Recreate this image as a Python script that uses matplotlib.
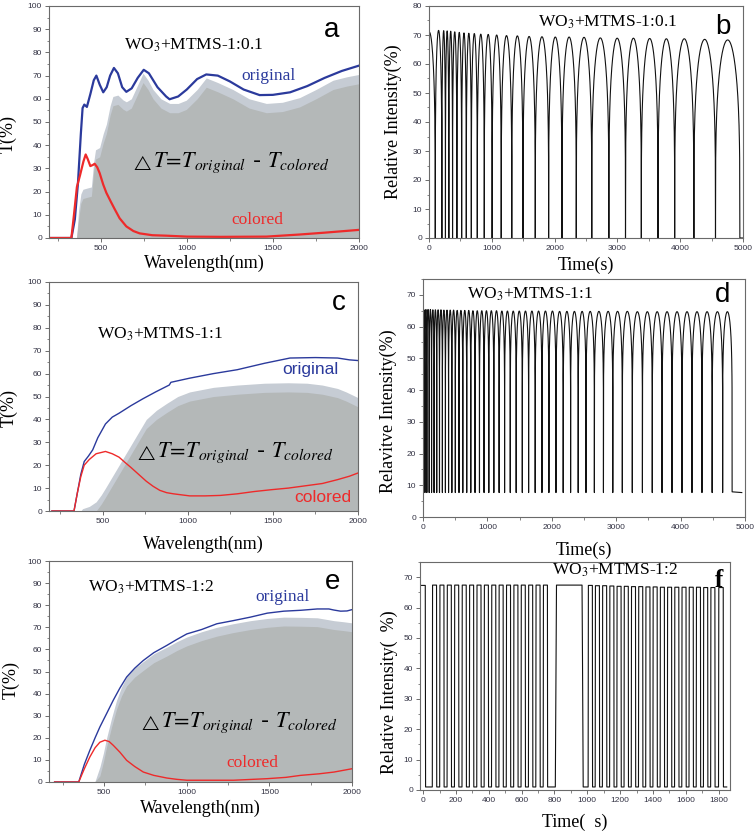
import numpy as np
import matplotlib
matplotlib.use("Agg")
import matplotlib.pyplot as plt
from matplotlib.ticker import MultipleLocator

plt.rcParams["mathtext.fontset"] = "stix"
SERIF = "Liberation Serif"
SANS = "Liberation Sans"

# ---- panel a : WO3+MTMS-1:0.1 spectra ----
a_wl_orig = [200, 330, 350, 368, 385, 395, 405, 420, 440, 460, 475, 495, 515, 535, 555, 577, 600, 625, 649,
             680, 715, 750, 780, 830, 880, 900, 950, 1000, 1060, 1113, 1180, 1250, 1330, 1423, 1500, 1600,
             1700, 1800, 1900, 2000]
a_T_orig = [0, 0, 8, 23.5, 45, 56, 57.5, 56.5, 62, 68, 70, 66, 62.8, 65, 70, 73.3, 71, 65, 63,
            64.5, 69, 72.5, 71, 65, 61, 59.8, 61, 64, 68.5, 70.5, 70, 67.5, 64, 61.6, 61.7, 62.8,
            65.5, 69, 72, 74.3]
a_wl_col = [200, 330, 345, 362, 380, 400, 413, 425, 440, 455, 465, 480, 494, 515, 533, 560, 581, 610,
            649, 690, 726, 800, 881, 1000, 1200, 1462, 1655, 1800, 2000]
a_T_col = [0, 0, 10, 22, 27, 33, 36, 34, 31, 31.5, 32, 30.5, 28, 23, 19.5, 15.5, 12.5, 8.5,
           5, 3, 2, 1.2, 1, 0.6, 0.5, 0.6, 1.5, 2.3, 3.5]
a_wl_dT = [200, 360, 372, 385, 397, 420, 446, 460, 470, 494, 515, 533, 555, 571, 600, 630, 649, 678,
           715, 746, 775, 804, 850, 901, 950, 997, 1060, 1113, 1180, 1268, 1362, 1462, 1555, 1655,
           1750, 1849, 1930, 2000]
a_dT = [0, 0, 12, 19, 21, 21.5, 22, 33, 38, 39, 45, 49, 57, 61, 61.6, 59.5, 58.7, 60,
        66, 71, 68, 64, 60, 58, 58, 59.4, 64, 69, 67, 64, 60, 58, 58.5, 60.5,
        64, 68, 69.5, 70.5]

# ---- panel c : WO3+MTMS-1:1 spectra ----
c_wl_orig = [200, 330, 350, 370, 390, 415, 440, 470, 515, 555, 595, 665, 735, 810, 890, 900, 1010,
             1150, 1290, 1450, 1600, 1750, 1880, 1950, 2000]
c_T_orig = [0, 0, 8, 16, 21.6, 24, 26.7, 32, 38, 41, 42.7, 46, 49, 52, 55, 56.2, 58,
            60, 61.7, 64.5, 66.8, 67, 66.8, 66, 65.7]
c_wl_col = [200, 330, 350, 370, 390, 420, 460, 515, 555, 595, 630, 665, 710, 755, 795, 835, 875, 915,
            1010, 1100, 1190, 1290, 1390, 1490, 1590, 1690, 1790, 1880, 1950, 2000]
c_T_col = [0, 0, 8, 15, 20, 22.5, 25, 26, 25, 23.5, 21.2, 19, 16, 13, 10.8, 9, 8, 7.5,
           6.6, 6.6, 6.8, 7.5, 8.5, 9.3, 10, 11, 12, 13.7, 15.2, 16.6]
c_wl_dT = [200, 370, 380, 420, 460, 490, 515, 555, 595, 635, 675, 715, 755, 815, 875, 940, 1010,
           1150, 1290, 1450, 1590, 1700, 1790, 1880, 1930, 2000]
c_dT = [0, 0, 1, 2, 4, 7, 10, 15, 20, 25, 30, 35, 40, 44, 47, 50, 52,
        54, 55, 55.8, 56, 55.8, 55, 53.5, 52, 49.5]

# ---- panel e : WO3+MTMS-1:2 spectra ----
e_wl_orig = [200, 346, 380, 413, 445, 474, 515, 555, 595, 636, 685, 737, 800, 879, 940, 1000, 1090,
             1182, 1280, 1385, 1487, 1587, 1690, 1790, 1860, 1891, 1931, 1970, 2000]
e_T_orig = [0, 0, 8, 14.3, 20, 24.9, 31, 37, 42.5, 47.5, 51.5, 55, 58.5, 61.8, 64.5, 67, 69,
            71.6, 73, 74.6, 76.4, 77.3, 77.7, 78.3, 78.3, 77.8, 77.3, 77.4, 78]
e_wl_col = [200, 346, 380, 413, 445, 474, 504, 530, 555, 595, 636, 685, 737, 800, 879, 940, 1000,
            1283, 1486, 1600, 1689, 1800, 1891, 2000]
e_T_col = [0, 0, 6, 11.3, 15.5, 18, 18.9, 18.3, 16.6, 13.5, 9.8, 7, 4.5, 3, 1.8, 1.2, 0.8,
           0.8, 1.5, 2.1, 3, 3.7, 4.5, 6]
e_wl_dT = [200, 443, 474, 495, 515, 545, 575, 605, 636, 685, 737, 800, 879, 940, 1000, 1090, 1182,
           1280, 1385, 1487, 1587, 1690, 1790, 1891, 1950, 2000]
e_dT = [0, 0, 6.8, 13, 20, 29, 37, 43, 47.5, 51.5, 54.5, 58, 61, 63.5, 65.6, 68, 70,
        71.6, 73, 74, 74.6, 74.5, 74.3, 73, 72.5, 72]

# ---- panel b : cycling 1:0.1 (valley times, peak heights) ----
b_valleys = [-90, 100, 205, 262, 316, 375, 444, 520, 594, 674, 769, 880, 1005, 1150, 1318, 1496,
             1692, 1905, 2117, 2345, 2592, 2864, 3129, 3381, 3647, 3912, 4218, 4562, 4950]
b_peaks = [71.0, 71.6, 71.5, 71.4, 71.3, 71.1, 70.9, 70.7, 70.6, 70.5, 70.3, 70.2, 70.0, 69.8,
           69.7, 69.5, 69.4, 69.3, 69.3, 69.2, 69.0, 68.9, 68.9, 68.8, 68.7, 68.7, 68.5, 68.3]
b_base = 0.0

# ---- panel d : cycling 1:1 ----
d_valleys = [0, 30, 60, 96, 133, 172, 213, 256, 301, 348, 397, 448, 502, 559, 618, 679, 742, 808,
             877, 948, 1022, 1100, 1182, 1267, 1355, 1447, 1542, 1640, 1742, 1847, 1955, 2065,
             2177, 2292, 2410, 2531, 2661, 2802, 2947, 3095, 3250, 3407, 3560, 3712, 3867, 4022,
             4177, 4332, 4490, 4653, 4800]
d_peaks = [65.3, 65.4, 65.4, 65.4, 65.3, 65.3, 65.3, 65.3, 65.2, 65.2, 65.2, 65.2, 65.1, 65.1,
           65.1, 65.1, 65.0, 65.0, 65.0, 65.0, 65.0, 65.0, 64.9, 64.9, 64.9, 64.9, 64.9, 64.9,
           64.9, 64.9, 64.9, 64.8, 64.8, 64.8, 64.8, 64.8, 64.8, 64.8, 64.8, 64.8, 64.7, 64.7,
           64.7, 64.7, 64.7, 64.7, 64.7, 64.7, 64.7, 64.7]
d_base = 7.7
d_end = 4950

# ---- panel f : cycling 1:2 (rise / fall times) ----
f_rise = [-30, 55, 100, 145, 190, 236, 281, 326, 371, 416, 461, 506, 551, 596, 641, 686, 731, 805,
          1005, 1048, 1092, 1136, 1180, 1224, 1268, 1312, 1356, 1400, 1444, 1488, 1532, 1576,
          1620, 1664, 1708, 1752, 1800]
f_fall = [14, 82, 127, 172, 217, 263, 308, 353, 398, 443, 488, 533, 578, 623, 668, 713, 758, 975,
          1032, 1075, 1119, 1163, 1207, 1251, 1295, 1339, 1383, 1427, 1471, 1515, 1559, 1603,
          1647, 1691, 1735, 1779, 1830]
f_peaks = [67.3, 67.4, 67.4, 67.4, 67.4, 67.4, 67.4, 67.4, 67.4, 67.4, 67.4, 67.4, 67.4, 67.4,
           67.4, 67.4, 67.4, 67.4, 67.3, 67.2, 67.2, 67.1, 67.0, 67.0, 66.9, 66.9, 66.8, 66.8,
           66.7, 66.7, 66.7, 66.7, 66.7, 66.7, 66.6, 66.6, 66.6]
f_base = 1.0
f_end = 1850

BLUE = "#2b3a9c"
RED = "#ee2a2a"
GRAY_LIGHT = "#c6ccd4"
GRAY_DARK = "#b4b8b8"
DELTA_REST = r"$T\!=\!T_{original}$ - $T_{colored}$"


def hump_trace(starts, ends, peaks, base, k, gain=1.0, t_end=None):
    t, y = [], []
    for s, e, p in zip(starts, ends, peaks):
        u = np.linspace(0, 1, 120)
        shape = np.clip(np.sin(np.pi * u) * gain, 0, 1) ** k
        t.extend(s + u * (e - s))
        y.extend(base + (p - base) * shape)
    if t_end is not None:
        t.append(t_end)
        y.append(base)
    return np.array(t), np.array(y)


def style(ax, xmaj, xmin, ymaj, ymin):
    for sp in ax.spines.values():
        sp.set_color("#6a6a6a")
        sp.set_linewidth(0.8)
    ax.xaxis.set_major_locator(MultipleLocator(xmaj))
    ax.xaxis.set_minor_locator(MultipleLocator(xmin))
    ax.yaxis.set_major_locator(MultipleLocator(ymaj))
    ax.yaxis.set_minor_locator(MultipleLocator(ymin))
    ax.tick_params(which="major", direction="out", length=3, width=0.6, color="#555555",
                   labelsize=6, labelcolor="#333344", pad=2)
    ax.tick_params(which="minor", direction="out", length=1.8, width=0.5, color="#555555")
    for lab in ax.get_xticklabels() + ax.get_yticklabels():
        lab.set_fontfamily(SANS)


def spectrum(ax, wo, to, wc, tc, wd, dT, lw, xl, title, letter, lab_font, pos):
    wd = np.array(wd, float)
    dT = np.array(dT, float)
    ax.fill_between(wd, 0, dT, color=GRAY_LIGHT, lw=0)
    ax.fill_between(wd, 0, np.clip(dT - 4, 0, None), color=GRAY_DARK, lw=0)
    ax.plot(wo, to, color=BLUE, lw=lw)
    ax.plot(wc, tc, color=RED, lw=lw)
    ax.set_xlim(xl, 2000)
    ax.set_ylim(0, 100)
    style(ax, 500, 250, 10, 5)
    ax.set_xlabel("Wavelength(nm)", fontfamily=SERIF, fontsize=13)
    ax.set_ylabel("T(%)", fontfamily=SERIF, fontsize=13)
    ax.text(*pos["title"], title, fontfamily=SERIF, fontsize=12.5, ha="center", va="center")
    ax.text(*pos["letter"], letter, fontfamily=SANS, fontsize=20, ha="center", va="center")
    ax.text(*pos["orig"], "original", color=BLUE, fontfamily=lab_font, fontsize=12.5,
            ha="center", va="center")
    ax.text(*pos["col"], "colored", color=RED, fontfamily=lab_font, fontsize=12.5,
            ha="center", va="center")
    # delta-T formula: small outlined triangle followed by the expression
    ax.text(*pos["dT"], DELTA_REST, fontsize=16, ha="left", va="center")
    ax.annotate(r"$\triangle$", xy=pos["dT"], xytext=(-0.5, 0.5), textcoords="offset points",
                fontsize=11, ha="right", va="center")


fig = plt.figure(figsize=(7.56, 8.33), dpi=100)
W, H = 756.0, 833.0


def add_ax(l, r, t, b):
    return fig.add_axes([l / W, 1 - b / H, (r - l) / W, (b - t) / H])


ax_a = add_ax(49, 359, 6, 238)
ax_b = add_ax(429, 743, 6, 238)
ax_c = add_ax(49, 358, 282, 511)
ax_d = add_ax(423, 745, 279, 517)
ax_e = add_ax(49, 352, 561, 782)
ax_f = add_ax(420, 730, 562, 790)

# spectra
spectrum(ax_a, a_wl_orig, a_T_orig, a_wl_col, a_T_col, a_wl_dT, a_dT, 1.6, 200,
         "WO$_3$+MTMS-1:0.1", "a", SERIF,
         {"title": (1040, 83), "letter": (1840, 89.6), "orig": (1472, 70), "col": (1408, 7.8),
          "dT": (804, 32.3)})
spectrum(ax_c, c_wl_orig, c_T_orig, c_wl_col, c_T_col, c_wl_dT, c_dT, 1.0, 183,
         "WO$_3$+MTMS-1:1", "c", SANS,
         {"title": (836, 77), "letter": (1890, 90.8), "orig": (1718, 61.6), "col": (1794, 5.7),
          "dT": (818, 25.3)})
spectrum(ax_e, e_wl_orig, e_T_orig, e_wl_col, e_T_col, e_wl_dT, e_dT, 1.0, 166,
         "WO$_3$+MTMS-1:2", "e", SERIF,
         {"title": (783, 88), "letter": (1885, 90.5), "orig": (1582, 83.7), "col": (1395, 8.6),
          "dT": (844, 26.7)})

# cycling
tb, yb = hump_trace(b_valleys[:-1], b_valleys[1:], b_peaks, b_base, 0.25, t_end=5000)
ax_b.plot(tb, yb, color="#111111", lw=0.8)
ax_b.set_xlim(0, 5000)
ax_b.set_ylim(0, 80)
style(ax_b, 1000, 500, 10, 5)
ax_b.set_xlabel("Time(s)", fontfamily=SERIF, fontsize=13)
ax_b.set_ylabel("Relative Intensity(%)", fontfamily=SERIF, fontsize=13)
ax_b.text(2850, 74.5, "WO$_3$+MTMS-1:0.1", fontfamily=SERIF, fontsize=12.5, ha="center", va="center")
ax_b.text(4682, 72.8, "b", fontfamily=SANS, fontsize=20, ha="center", va="center")

td, yd = hump_trace(d_valleys[:-1], d_valleys[1:], d_peaks, d_base, 0.15, t_end=d_end)
ax_d.plot(td, yd, color="#111111", lw=0.8)
ax_d.set_xlim(0, 5000)
ax_d.set_ylim(0, 75)
style(ax_d, 1000, 500, 10, 5)
ax_d.set_xlabel("Time(s)", fontfamily=SERIF, fontsize=13)
ax_d.set_ylabel("Relavitve Intensity(%)", fontfamily=SERIF, fontsize=13)
ax_d.text(1661, 70.3, "WO$_3$+MTMS-1:1", fontfamily=SERIF, fontsize=12.5, ha="center", va="center")
ax_d.text(4658, 70, "d", fontfamily=SANS, fontsize=20, ha="center", va="center")

tf, yf = hump_trace(f_rise, f_fall, f_peaks, f_base, 1.0, gain=8.0, t_end=f_end)
ax_f.plot(tf, yf, color="#111111", lw=0.8)
ax_f.set_xlim(-20, 1870)
ax_f.set_ylim(0, 75)
style(ax_f, 200, 100, 10, 5)
ax_f.set_xlabel("Time(  s)", fontfamily=SERIF, fontsize=13)
ax_f.set_ylabel("Relative Intensity(  %)", fontfamily=SERIF, fontsize=13)
ax_f.text(1169, 72.4, "WO$_3$+MTMS-1:2", fontfamily=SERIF, fontsize=12.5, ha="center", va="center")
ax_f.text(1803, 69, "f", fontfamily=SERIF, fontsize=18, fontweight="bold", ha="center", va="center")

# label placement (axes fraction)
for ax, xy, yy in [(ax_a, -0.073, (-0.103, 0.45)), (ax_b, -0.082, (-0.086, 0.5)),
                   (ax_c, -0.109, (-0.10, 0.45)), (ax_d, -0.105, (-0.081, 0.445)),
                   (ax_e, -0.081, (-0.096, 0.46)), (ax_f, -0.105, (-0.071, 0.43))]:
    ax.xaxis.set_label_coords(0.5, xy)
    ax.yaxis.set_label_coords(*yy)

fig.savefig("out.png", dpi=100)
